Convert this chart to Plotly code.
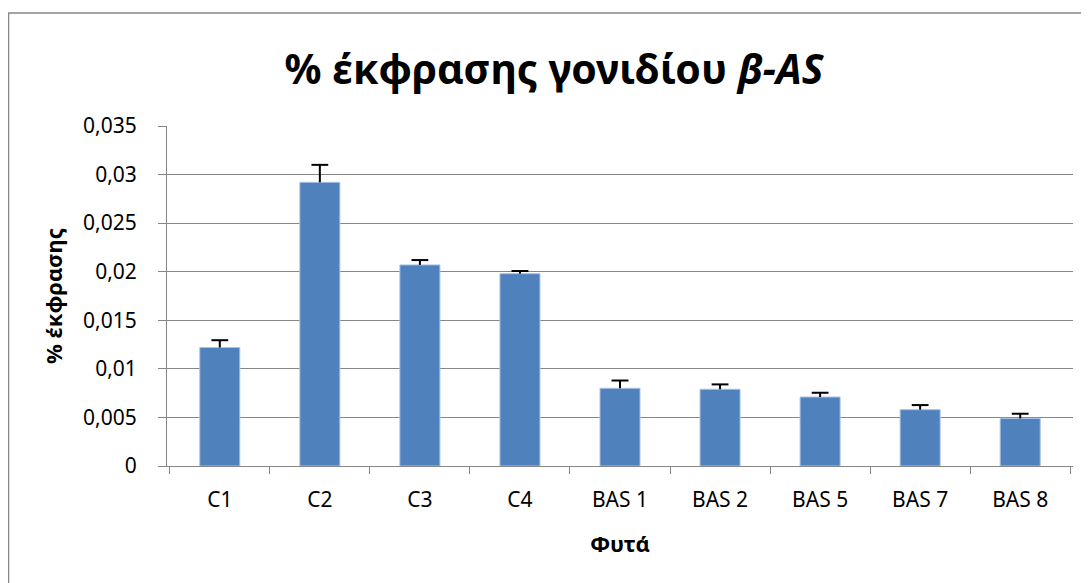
import plotly.graph_objects as go

categories = ["C1", "C2", "C3", "C4", "BAS 1", "BAS 2", "BAS 5", "BAS 7", "BAS 8"]
values = [0.0122, 0.0292, 0.0207, 0.0198, 0.0080, 0.0079, 0.0071, 0.0058, 0.0049]
errors = [0.00075, 0.0018, 0.0005, 0.00027, 0.0008, 0.0005, 0.00044, 0.00047, 0.00048]
y_ticks = [0, 0.005, 0.01, 0.015, 0.02, 0.025, 0.03, 0.035]
y_tick_labels = ["0", "0,005", "0,01", "0,015", "0,02", "0,025", "0,03", "0,035"]

FONT = "Noto Sans"

fig = go.Figure()
fig.add_trace(go.Bar(
    x=categories, y=values,
    marker=dict(color="#4F81BD", line=dict(color="#A9C2E4", width=1)),
    hoverinfo="x+y",
))

# upper-only error bars: stems and caps derived from the data
tops = [v + e for v, e in zip(values, errors)]
stem_x, stem_y = [], []
for c, v, t in zip(categories, values, tops):
    stem_x += [c, c, None]
    stem_y += [v, t, None]
fig.add_trace(go.Scatter(
    x=stem_x, y=stem_y, mode="lines",
    line=dict(color="black", width=2), hoverinfo="skip",
))
fig.add_trace(go.Scatter(
    x=categories, y=tops, mode="markers",
    marker=dict(symbol="line-ew", size=12, line=dict(color="black", width=2)),
    hoverinfo="skip",
))

# page is offset by the 8px body margin
W, H = 1081, 575
L, R, T, B = 159, 16, 118, 117
pw = W - L - R
ph = H - T - B

def px_x(p):
    return (p - L) / pw

def px_y(p):
    return (H - B - p) / ph

fig.update_layout(
    width=W, height=H,
    margin=dict(l=L, r=R, t=T, b=B),
    paper_bgcolor="white", plot_bgcolor="white",
    bargap=0.6,
    showlegend=False,
    font=dict(family=FONT, color="black"),
    title=dict(
        text="<b>% έκφρασης γονιδίου <i>β-AS</i></b>",
        x=546 / W, xanchor="center", y=1 - 62 / H, yanchor="middle",
        font=dict(size=41, family=FONT, color="black"),
    ),
    xaxis=dict(
        showline=True, linecolor="#868686", linewidth=1,
        ticks="outside", ticklen=7, tickcolor="#868686",
        tickson="boundaries",
        ticklabelstandoff=15,
        tickfont=dict(size=21, family=FONT),
        title=dict(text="<b>Φυτά</b>", font=dict(size=22, family=FONT), standoff=24),
    ),
    yaxis=dict(
        range=[0, 0.035],
        tickvals=y_ticks, ticktext=y_tick_labels,
        showline=True, linecolor="#868686", linewidth=1,
        ticks="outside", ticklen=8, tickcolor="#868686",
        showgrid=True, gridcolor="#868686", gridwidth=1,
        zeroline=False,
        tickfont=dict(size=21, family=FONT),
        ticklabelstandoff=17,
        title=dict(text="<b>% έκφρασης</b>", font=dict(size=22, family=FONT), standoff=14),
    ),
    shapes=[dict(
        type="rect", xref="paper", yref="paper",
        x0=px_x(0.5), x1=px_x(1100), y0=px_y(5), y1=px_y(600),
        line=dict(color="#868686", width=1.5), fillcolor="rgba(0,0,0,0)", layer="below",
    )],
)

fig.write_html("out.html")
